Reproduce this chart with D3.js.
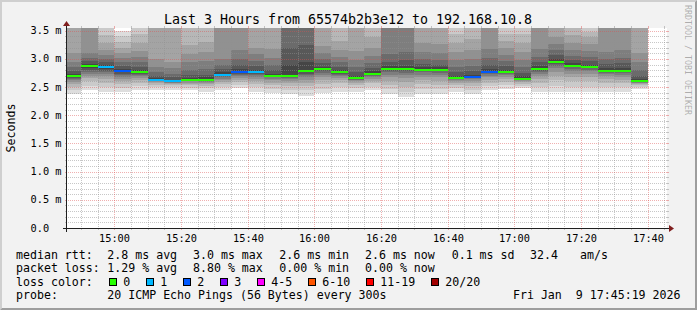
<!DOCTYPE html>
<html>
<head>
<meta charset="utf-8">
<script src="https://cdn.jsdelivr.net/npm/d3@7"></script>
<style>
	html, body { margin: 0; padding: 0; background: #f2f2f2; }
	svg { display: block; }
	text { font-family: "DejaVu Sans Mono", monospace; fill: #000; white-space: pre; }
</style>
</head>
<body>
<svg id="chart" width="697" height="310"></svg>
<script>
// SmokePing style latency graph

// ---- data ----
const title = 'Last 3 Hours from 65574b2b3e12 to 192.168.10.8';
const yLabel = 'Seconds';
const watermark = 'RRDTOOL / TOBI OETIKER';

// one step every 5 minutes, first step starts 14:45 UTC
const stepCount = 35;

// median rtt per step (ms)
const medians = [2.70, 2.87, 2.85, 2.78, 2.76, 2.63, 2.60, 2.63, 2.63, 2.72,
	2.77, 2.77, 2.70, 2.70, 2.79, 2.82, 2.76, 2.66, 2.74, 2.82,
	2.82, 2.81, 2.81, 2.66, 2.68, 2.77, 2.77, 2.65, 2.82, 2.95,
	2.88, 2.86, 2.79, 2.79, 2.61];

// lost pings per step (of 20)
const losses = [0, 0, 1, 2, 0, 1, 1, 0, 0, 1,
	2, 1, 0, 0, 0, 0, 0, 0, 0, 0,
	0, 0, 0, 0, 2, 2, 0, 0, 0, 0,
	0, 0, 0, 0, 0];

// 20 sorted ping times per step (ms), values over the top are clipped
const pings = [
	[2.38,2.44,2.50,2.55,2.59,2.62,2.64,2.66,2.68,2.69,2.71,2.74,2.79,2.86,2.95,3.10,3.62,3.80,4.00,4.40],
	[2.44,2.52,2.60,2.66,2.70,2.74,2.77,2.80,2.83,2.86,2.88,2.91,2.96,3.02,3.10,3.70,3.85,4.00,4.20,4.50],
	[2.42,2.50,2.58,2.64,2.69,2.73,2.76,2.79,2.82,2.84,2.86,2.89,2.94,3.00,3.07,3.15,3.28,3.42,3.70,3.95],
	[2.42,2.49,2.55,2.60,2.64,2.68,2.71,2.74,2.76,2.77,2.79,2.82,2.88,2.95,3.02,3.10,3.20,3.30,3.40,3.50],
	[2.44,2.52,2.58,2.62,2.66,2.69,2.71,2.73,2.75,2.76,2.77,2.80,2.86,2.94,3.04,3.14,3.28,3.45,3.65,3.90],
	[2.45,2.50,2.54,2.57,2.59,2.60,2.61,2.62,2.62,2.63,2.64,2.66,2.70,2.76,2.85,3.00,3.65,3.90,4.10,4.40],
	[2.45,2.50,2.53,2.55,2.57,2.58,2.59,2.59,2.60,2.60,2.61,2.63,2.67,2.74,2.84,2.95,3.60,3.80,4.00,4.30],
	[2.44,2.49,2.53,2.56,2.58,2.60,2.61,2.62,2.62,2.63,2.64,2.66,2.71,2.80,2.94,3.08,3.25,3.62,3.85,4.10],
	[2.42,2.48,2.52,2.55,2.57,2.59,2.60,2.61,2.62,2.63,2.64,2.67,2.72,2.82,2.96,3.12,3.30,3.60,3.80,4.00],
	[2.44,2.50,2.55,2.59,2.62,2.65,2.67,2.69,2.71,2.72,2.73,2.76,2.82,2.90,3.00,3.65,3.80,4.00,4.20,4.50],
	[2.48,2.54,2.59,2.63,2.66,2.69,2.71,2.73,2.75,2.76,2.78,2.82,2.90,3.00,3.15,3.70,3.85,4.00,4.20,4.50],
	[2.42,2.50,2.56,2.61,2.65,2.68,2.71,2.73,2.75,2.76,2.78,2.81,2.87,2.96,3.08,3.20,3.65,3.80,4.00,4.30],
	[2.39,2.46,2.53,2.58,2.62,2.65,2.67,2.68,2.69,2.70,2.70,2.73,2.80,2.90,3.02,3.18,3.60,3.80,4.00,4.30],
	[2.37,2.45,2.52,2.57,2.61,2.64,2.66,2.68,2.69,2.70,2.71,2.90,3.20,3.65,3.80,3.90,4.00,4.20,4.40,4.60],
	[2.35,2.44,2.52,2.58,2.63,2.67,2.71,2.74,2.77,2.78,2.80,2.95,3.25,3.60,3.80,3.90,4.00,4.20,4.40,4.60],
	[2.39,2.47,2.55,2.62,2.67,2.71,2.75,2.78,2.80,2.81,2.83,2.86,2.92,3.00,3.10,3.22,3.62,3.80,4.00,4.20],
	[2.42,2.50,2.57,2.62,2.66,2.69,2.72,2.74,2.75,2.76,2.77,2.80,2.86,2.94,3.04,3.16,3.32,3.62,3.85,4.10],
	[2.42,2.48,2.53,2.57,2.60,2.62,2.63,2.64,2.65,2.66,2.67,2.70,2.76,2.85,2.98,3.14,3.62,3.80,4.00,4.20],
	[2.45,2.51,2.57,2.61,2.65,2.68,2.70,2.72,2.73,2.74,2.75,2.78,2.84,2.93,3.05,3.20,3.38,3.62,3.85,4.10],
	[2.38,2.46,2.54,2.61,2.67,2.72,2.76,2.79,2.81,2.82,2.83,2.87,2.95,3.08,3.65,3.80,3.95,4.10,4.30,4.60],
	[2.33,2.42,2.51,2.59,2.66,2.71,2.75,2.78,2.80,2.82,2.83,2.88,2.98,3.12,3.65,3.80,3.95,4.10,4.30,4.60],
	[2.38,2.46,2.55,2.62,2.68,2.72,2.76,2.78,2.80,2.81,2.82,2.85,2.91,3.00,3.12,3.28,3.65,3.80,4.00,4.20],
	[2.38,2.46,2.54,2.61,2.67,2.72,2.75,2.78,2.80,2.81,2.82,2.85,2.90,2.98,3.10,3.26,3.62,3.80,4.00,4.20],
	[2.42,2.48,2.53,2.57,2.60,2.62,2.64,2.65,2.66,2.66,2.67,2.70,2.76,2.86,2.98,3.12,3.28,3.45,3.65,3.90],
	[2.37,2.45,2.52,2.57,2.61,2.64,2.66,2.67,2.68,2.68,2.69,2.72,2.79,2.88,3.00,3.15,3.35,3.62,3.85,4.10],
	[2.45,2.52,2.58,2.63,2.67,2.70,2.73,2.75,2.76,2.77,2.78,2.82,2.90,3.02,3.18,3.65,3.80,4.00,4.20,4.50],
	[2.46,2.53,2.59,2.64,2.68,2.71,2.73,2.75,2.76,2.77,2.78,2.81,2.87,2.96,3.07,3.20,3.32,3.45,3.54,3.80],
	[2.48,2.52,2.56,2.59,2.61,2.63,2.64,2.64,2.65,2.65,2.66,2.69,2.75,2.85,2.98,3.12,3.28,3.45,3.65,3.90],
	[2.42,2.50,2.58,2.65,2.70,2.74,2.77,2.79,2.81,2.82,2.83,2.87,2.94,3.04,3.18,3.65,3.80,4.00,4.20,4.50],
	[2.42,2.52,2.62,2.70,2.77,2.83,2.88,2.91,2.93,2.94,2.96,3.00,3.07,3.16,3.26,3.38,3.65,3.80,4.00,4.20],
	[2.42,2.51,2.60,2.68,2.74,2.79,2.82,2.85,2.87,2.88,2.89,2.92,2.98,3.06,3.16,3.28,3.42,3.62,3.85,4.10],
	[2.42,2.51,2.60,2.67,2.73,2.78,2.81,2.83,2.85,2.86,2.87,2.90,2.96,3.04,3.14,3.26,3.38,3.48,3.65,3.90],
	[2.42,2.50,2.58,2.64,2.69,2.73,2.75,2.77,2.78,2.79,2.80,2.84,2.91,3.00,3.12,3.65,3.80,4.00,4.20,4.50],
	[2.42,2.50,2.57,2.63,2.68,2.72,2.75,2.77,2.78,2.79,2.80,2.84,2.92,3.02,3.16,3.65,3.80,4.00,4.20,4.50],
	[2.46,2.50,2.53,2.55,2.57,2.58,2.59,2.60,2.60,2.61,2.61,2.64,2.70,2.80,2.94,3.10,3.65,3.80,4.00,4.30]
];

// axis ticks
const yTicks = [0, 0.5, 1.0, 1.5, 2.0, 2.5, 3.0, 3.5];
const yTickLabels = ['0.0', '0.5 m', '1.0 m', '1.5 m', '2.0 m', '2.5 m', '3.0 m', '3.5 m'];

// legend
const rttLabel = 'median rtt:';
const rttStats = ['2.8 ms avg', '3.0 ms max', '2.6 ms min', '2.6 ms now', '0.1 ms sd'];
const rttRate = ['32.4', 'am/s'];
const lossLabel = 'packet loss:';
const lossStats = ['1.29 % avg', '8.80 % max', '0.00 % min', '0.00 % now'];
const colorLabel = 'loss color:';
const lossNames = ['0', '1', '2', '3', '4-5', '6-10', '11-19', '20/20'];
const lossColors = ['#26ff00', '#00b8ff', '#0059ff', '#7e00ff', '#ff00ff', '#ff5500', '#ff0000', '#a10000'];
const lossMax = [0, 1, 2, 3, 5, 10, 19, 20];
const probeLabel = 'probe:';
const probeText = '20 ICMP Echo Pings (56 Bytes) every 300s';
const dateText = 'Fri Jan  9 17:45:19 2026';

// ---- layout ----
const W = 697, H = 310;
const X0 = 67, Y0 = 228, PW = 600, PH = 200;

const svg = d3.select('#chart');

const tStart = new Date(Date.UTC(2026, 0, 9, 14, 45, 48));
const tEnd = new Date(Date.UTC(2026, 0, 9, 17, 45, 48));
const firstStep = new Date(Date.UTC(2026, 0, 9, 14, 45, 0));

const x = d3.scaleUtc().domain([tStart, tEnd]).range([X0, X0 + PW]);
const y = d3.scaleLinear().domain([0, 3.548]).range([Y0, Y0 - PH]);

// frame shading
svg.append('rect').attr('width', W).attr('height', H).attr('fill', '#f2f2f2');
svg.append('path')
	.attr('d', `M0,${H} L2,${H - 2} L2,2 L${W - 2},2 L${W},0 L0,0 Z`)
	.attr('fill', '#cfcfcf');
svg.append('path')
	.attr('d', `M2,${H - 2} L${W - 2},${H - 2} L${W - 2},2 L${W},0 L${W},${H} L0,${H} Z`)
	.attr('fill', '#9e9e9e');

// canvas
svg.append('rect')
	.attr('x', X0).attr('y', Y0 - PH)
	.attr('width', PW).attr('height', PH)
	.attr('fill', '#ffffff');

svg.append('clipPath').attr('id', 'plotclip')
	.append('rect')
	.attr('x', X0).attr('y', Y0 - PH)
	.attr('width', PW).attr('height', PH);

const steps = d3.range(stepCount).map(function(i) {
	return {
		t0: d3.utcMinute.offset(firstStep, i * 5),
		t1: d3.utcMinute.offset(firstStep, i * 5 + 5),
		pings: pings[i],
		median: medians[i],
		loss: losses[i]
	};
});

// smoke: band k spans ping k .. ping 21-k, darker towards the middle
const plot = svg.append('g').attr('clip-path', 'url(#plotclip)');
const half = 10;
steps.forEach(function(s) {
	const xa = Math.round(x(s.t0));
	const xb = Math.round(x(s.t1));
	for (let k = 1; k <= half; k++) {
		const lo = s.pings[k - 1];
		const hi = s.pings[20 - k];
		const c = Math.floor(190 / half * (half - k)) + 50;
		const ya = y(hi), yb = y(lo);
		plot.append('rect')
			.attr('x', xa).attr('width', xb - xa)
			.attr('y', ya).attr('height', Math.max(0, yb - ya))
			.attr('fill', d3.rgb(c, c, c))
			.attr('shape-rendering', 'crispEdges');
	}
});

// median line coloured by loss
function lossColor(n) {
	for (let i = 0; i < lossMax.length; i++) {
		if (n <= lossMax[i]) return lossColors[i];
	}
	return lossColors[lossColors.length - 1];
}

// grid
const gridCol = 'rgba(143,143,143,0.5)';
const mgridCol = 'rgba(222,79,79,0.45)';
const grid = svg.append('g').attr('shape-rendering', 'crispEdges');

function hline(yy, col) {
	const py = Math.round(yy) + 0.5;
	grid.append('line').attr('x1', X0 - 2).attr('x2', X0).attr('y1', py).attr('y2', py)
		.attr('stroke', col);
	grid.append('line').attr('x1', X0 + PW).attr('x2', X0 + PW + 2).attr('y1', py).attr('y2', py)
		.attr('stroke', col);
	grid.append('line').attr('x1', X0 - 1).attr('x2', X0 + PW + 1).attr('y1', py).attr('y2', py)
		.attr('stroke', col).attr('stroke-dasharray', '1,1');
}
function vline(xx, col) {
	const px = Math.round(xx) + 0.5;
	grid.append('line').attr('x1', px).attr('x2', px).attr('y1', Y0).attr('y2', Y0 + 2)
		.attr('stroke', col);
	grid.append('line').attr('x1', px).attr('x2', px).attr('y1', Y0 - PH - 2).attr('y2', Y0 - PH)
		.attr('stroke', col);
	grid.append('line').attr('x1', px).attr('x2', px).attr('y1', Y0 + 1).attr('y2', Y0 - PH - 1)
		.attr('stroke', col).attr('stroke-dasharray', '1,1');
}

const minorY = d3.range(1, 36).map(function(i) { return i / 10; })
	.filter(function(v) { return Math.abs(v * 2 - Math.round(v * 2)) > 1e-6; });
minorY.forEach(function(v) { hline(y(v), gridCol); });

const minorX = d3.utcMinute.every(5).range(tStart, tEnd)
	.filter(function(t) { return t.getUTCMinutes() % 20 !== 0; });
minorX.forEach(function(t) { vline(x(t), gridCol); });

yTicks.slice(1).forEach(function(v) { hline(y(v), mgridCol); });
const majorX = d3.utcMinute.every(20).range(tStart, tEnd);
majorX.forEach(function(t) { vline(x(t), mgridCol); });

// median lines on top of smoke and grid
svg.append('g').attr('clip-path', 'url(#plotclip)')
	.selectAll('rect')
	.data(steps)
	.enter().append('rect')
	.attr('x', function(d) { return Math.round(x(d.t0)); })
	.attr('width', function(d) { return Math.round(x(d.t1)) - Math.round(x(d.t0)); })
	.attr('y', function(d) { return Math.round(y(d.median)) - 1; })
	.attr('height', 2)
	.attr('fill', function(d) { return lossColor(d.loss); })
	.attr('shape-rendering', 'crispEdges');

// axes
const axisCol = '#1f1f1f';
svg.append('line')
	.attr('x1', X0 - 4).attr('x2', X0 + PW + 4)
	.attr('y1', Y0 + 0.5).attr('y2', Y0 + 0.5)
	.attr('stroke', axisCol);
svg.append('line')
	.attr('x1', X0 - 0.5).attr('x2', X0 - 0.5)
	.attr('y1', Y0 + 4).attr('y2', Y0 - PH - 4)
	.attr('stroke', axisCol);
svg.append('path')
	.attr('d', `M${X0 + PW + 2},${Y0 - 3} L${X0 + PW + 2},${Y0 + 4} L${X0 + PW + 7},${Y0 + 0.5} Z`)
	.attr('fill', '#801f1f');
svg.append('path')
	.attr('d', `M${X0 - 4},${Y0 - PH - 2} L${X0 + 3},${Y0 - PH - 2} L${X0 - 0.5},${Y0 - PH - 7} Z`)
	.attr('fill', '#801f1f');

// tick labels (left aligned, as rrdtool pads them)
svg.append('g').selectAll('text')
	.data(yTicks)
	.enter().append('text')
	.attr('x', 30.5)
	.attr('y', function(d) { return y(d) + 3.6; })
	.style('font-size', '10.3px')
	.text(function(d, i) { return yTickLabels[i]; });

const fmt = d3.utcFormat('%H:%M');
svg.append('g').selectAll('text')
	.data(majorX)
	.enter().append('text')
	.attr('x', function(d) { return Math.round(x(d)) + 0.5; })
	.attr('y', 241.7)
	.attr('text-anchor', 'middle')
	.style('font-size', '10.3px')
	.text(function(d) { return fmt(d); });

// title, unit label, watermark
svg.append('text')
	.attr('x', 348).attr('y', 24)
	.attr('text-anchor', 'middle')
	.style('font-size', '13.3px')
	.text(title);

svg.append('text')
	.attr('transform', 'translate(15,128) rotate(-90)')
	.attr('text-anchor', 'middle')
	.style('font-size', '11.6px')
	.text(yLabel);

svg.append('text')
	.attr('transform', 'translate(685,5) rotate(90)')
	.style('font-size', '8.3px')
	.style('fill', 'rgba(0,0,0,0.3)')
	.text(watermark);

// legend
const leg = svg.append('g').style('font-size', '11.6px');
const cols = [107.3, 193, 279.3, 365, 451.7];
const rows = [258.5, 272, 285.5, 299];

function put(xx, yy, t, anchor) {
	leg.append('text').attr('x', xx).attr('y', yy)
		.attr('text-anchor', anchor || 'start')
		.text(t);
}

put(16, rows[0], rttLabel);
rttStats.forEach(function(t, i) { put(cols[i], rows[0], t); });
put(530, rows[0], rttRate[0]);
put(580, rows[0], rttRate[1]);

put(16, rows[1], lossLabel);
lossStats.forEach(function(t, i) { put(cols[i], rows[1], t); });

put(16, rows[2], colorLabel);
let sx = 108.7;
lossNames.forEach(function(name, i) {
	const rx = Math.round(sx) + 0.5;
	leg.append('rect')
		.attr('x', rx).attr('y', rows[2] - 7.5)
		.attr('width', 7).attr('height', 7)
		.attr('fill', lossColors[i])
		.attr('stroke', '#000')
		.attr('shape-rendering', 'crispEdges');
	put(sx + 14.6, rows[2], name);
	sx += 14.6 + name.length * 7 + 15.4;
});

put(16, rows[3], probeLabel);
put(cols[0], rows[3], probeText);
put(680.5, rows[3], dateText, 'end');
</script>
</body>
</html>
